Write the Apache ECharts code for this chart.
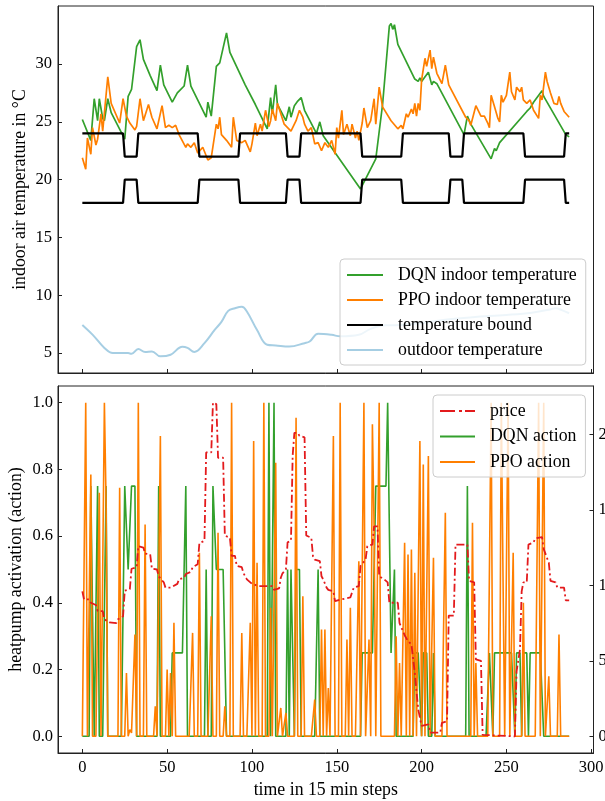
<!DOCTYPE html>
<html><head><meta charset="utf-8">
<script src="https://cdn.jsdelivr.net/npm/echarts@6/dist/echarts.min.js"></script>
<style>html,body{margin:0;padding:0;background:#fff}#c{width:605px;height:801px}</style>
</head><body><div id="c"></div>
<script>
// ---------- DATA ----------
const xTicks = [0, 50, 100, 150, 200, 250, 300];
const tempTicks = [5, 10, 15, 20, 25, 30];
const actionTicks = [0, 0.2, 0.4, 0.6, 0.8, 1.0];
const priceTicks = [0, 5, 10, 15, 20];

// [step, °C]
const dqnTemp = [[0,25.2],[5,23.4],[7,27.0],[9,25.1],[10,27.0],[12,25.3],[13,25.1],[15,27.0],[17,25.8],[25,23.5],[27,27.2],[29,27.8],[32,31.5],[34,32.1],[36,30.4],[40,29.0],[44,27.7],[46,29.9],[48,28.2],[53,26.7],[56,27.5],[60,28.1],[62,29.9],[64,28.1],[73,25.4],[74,26.7],[76,25.5],[79,29.8],[81,30.1],[85,32.7],[87,31.0],[96,28.2],[102,26.5],[109,24.4],[111,27.1],[112,25.7],[114,28.2],[115,26.5],[120,25.1],[122,26.3],[123,25.4],[125,26.4],[127,26.8],[129,27.1],[131,26.0],[138,24.0],[140,25.0],[142,23.8],[164,19.2],[173,21.8],[177,26.5],[181,33.3],[182,33.5],[183,33.0],[184,33.4],[186,31.7],[196,28.7],[198,28.5],[199,28.8],[200,28.5],[204,29.3],[206,28.2],[207,28.5],[209,28.3],[225,23.9],[227,25.5],[229,24.8],[241,21.8],[243,22.7],[244,22.5],[246,23.2],[262,25.9],[264,26.2],[266,26.7],[271,27.7],[272,27.2],[285,23.9],[287,23.7]];

const ppoTemp = [[0,21.9],[2,20.9],[3,23.6],[5,22.2],[6,24.5],[8,23.0],[9,23.5],[11,25.7],[12,24.2],[15,28.9],[17,26.6],[22,24.9],[24,27.0],[26,25.5],[28,24.9],[31,24.3],[32,24.6],[34,27.0],[36,25.1],[39,26.5],[41,25.4],[44,24.4],[47,26.4],[49,24.5],[51,24.7],[53,24.5],[55,24.7],[57,23.9],[61,22.8],[62,23.1],[64,22.8],[66,23.2],[68,22.3],[71,22.8],[74,21.7],[76,21.9],[79,24.8],[80,24.4],[81,25.4],[82,23.9],[85,23.4],[88,22.8],[89,25.4],[91,23.4],[94,23.2],[96,23.4],[99,22.4],[100,23.1],[102,24.9],[103,23.8],[105,24.8],[106,24.2],[108,26.0],[110,24.6],[111,25.1],[112,26.1],[114,25.1],[115,26.6],[119,24.8],[123,24.2],[126,25.1],[128,26.0],[130,25.4],[131,24.8],[133,24.2],[135,24.5],[137,23.1],[139,23.2],[141,22.5],[143,23.2],[145,22.8],[147,23.4],[149,22.2],[150,24.5],[151,23.6],[153,26.0],[154,23.9],[156,24.8],[158,23.8],[159,24.8],[161,23.6],[162,24.2],[163,23.4],[165,24.9],[166,26.2],[168,24.5],[170,25.1],[172,27.0],[173,24.8],[175,28.0],[177,26.3],[182,25.1],[186,24.4],[188,24.7],[189,24.4],[191,25.7],[192,25.4],[194,26.1],[195,25.7],[196,26.6],[197,25.5],[198,26.6],[199,26.0],[200,28.6],[202,30.5],[203,29.8],[205,31.2],[206,29.6],[207,30.6],[209,29.2],[212,28.3],[214,29.9],[216,28.2],[226,25.4],[228,25.1],[229,24.7],[230,24.7],[232,26.4],[233,26.1],[235,25.5],[237,25.5],[239,24.9],[240,24.5],[241,27.3],[243,26.3],[245,25.3],[246,25.0],[247,27.3],[248,26.7],[250,27.3],[252,29.3],[253,27.6],[255,26.9],[256,28.0],[258,27.6],[259,28.0],[260,26.9],[262,26.6],[264,26.9],[266,26.0],[269,25.3],[270,27.3],[271,26.9],[273,29.3],[274,28.5],[276,27.5],[278,26.6],[280,26.5],[281,27.2],[282,26.6],[284,25.9],[287,25.4]];

const upperBound = [[0,24],[24,24],[25,22],[32,22],[33,24],[68,24],[69,22],[92,22],[93,24],[120,24],[121,22],[128,22],[129,24],[164,24],[165,22],[188,22],[189,24],[216,24],[217,22],[224,22],[225,24],[260,24],[261,22],[284,22],[285,24],[287,24]];
const lowerBound = [[0,18],[24,18],[25,20],[32,20],[33,18],[68,18],[69,20],[92,20],[93,18],[120,18],[121,20],[128,20],[129,18],[164,18],[165,20],[188,20],[189,18],[216,18],[217,20],[224,20],[225,18],[260,18],[261,20],[284,20],[285,18],[287,18]];

const outdoorTemp = [[0,7.44],[6,6.6],[13,5.45],[18,5.0],[27,5.0],[29,4.95],[33,5.35],[37,5.1],[41,5.15],[46,4.72],[52,4.86],[59,5.55],[62,5.45],[66,5.1],[72,5.86],[78,7.0],[82,7.7],[86,8.65],[90,8.88],[94,9.0],[97,8.6],[103,7.0],[109,5.72],[114,5.66],[122,5.57],[131,5.86],[134,6.0],[139,6.67],[147,6.58],[152,6.45],[163,6.58],[170,7.1],[179,7.4],[185,7.41],[200,7.6],[215,7.9],[230,8.1],[250,8.3],[265,8.5],[275,8.75],[279,8.88],[283,8.7],[287,8.45]];

// [step, price] (right axis)
const price = [[0,9.6],[1,9.07],[4,9.07],[5,8.85],[8,8.7],[9,8.3],[12,8.3],[13,7.75],[16,7.55],[20,7.5],[21,7.75],[24,7.95],[25,9.65],[28,9.75],[29,11.1],[32,11.2],[33,12.6],[36,12.5],[37,12.1],[40,12.05],[41,11.1],[44,11.05],[45,10.6],[48,10.2],[49,9.85],[52,9.85],[53,9.95],[56,10.1],[57,10.4],[60,10.5],[61,10.75],[64,10.9],[65,11.2],[68,11.4],[69,12.8],[72,12.95],[73,18.8],[76,18.8],[77,22.1],[79,22.0],[80,18.45],[83,18.45],[84,13.3],[87,13.15],[88,11.95],[90,11.95],[91,11.3],[94,11.2],[95,10.8],[96,10.8],[97,10.4],[100,10.1],[101,10.05],[104,9.95],[112,9.95],[113,9.7],[116,9.8],[117,10.5],[118,10.8],[120,11.05],[121,12.85],[123,12.95],[124,18.6],[125,20.1],[127,20.1],[128,19.9],[131,19.8],[132,13.3],[135,13.15],[136,11.9],[137,11.7],[140,11.6],[141,10.6],[142,10.4],[144,9.85],[145,9.7],[148,9.6],[149,8.95],[152,9.05],[158,9.2],[160,9.85],[163,9.95],[164,11.3],[167,11.7],[168,12.6],[171,12.7],[172,13.9],[174,13.9],[175,10.6],[178,10.4],[180,10.2],[181,8.85],[186,8.85],[187,7.5],[188,7.4],[190,6.7],[192,6.3],[194,6.1],[195,6.05],[196,4.2],[198,1.8],[200,0.7],[204,0.8],[205,0.25],[211,0.25],[212,0.9],[215,1.0],[216,8.0],[219,8.0],[220,12.7],[227,12.7],[228,10.3],[231,10.2],[232,5.1],[235,5.0],[236,0.1],[237,0],[255,0],[256,4.3],[258,5.75],[259,9.6],[260,10.2],[262,10.2],[263,12.7],[266,12.85],[267,13.1],[271,13.2],[272,12.4],[275,11.5],[276,10.3],[279,10.2],[280,9.85],[284,9.85],[285,9.0],[287,9.0]];

// DQN action: [firstStep, lastStep, value]; all other steps 0
const dqnActionRuns = [[5,6,0.75],[9,9,0.75],[14,14,0.75],[25,26,0.75],[27,28,0.5],[29,31,0.75],[45,45,0.75],[53,60,0.25],[61,61,0.75],[73,73,0.5],[77,78,0.75],[79,84,0.5],[110,110,1.0],[113,113,1.0],[121,121,0.5],[123,124,0.5],[126,128,0.5],[139,139,0.5],[165,172,0.25],[173,179,0.75],[180,181,1.0],[182,183,0.25],[184,184,0.5],[196,199,0.25],[201,203,0.25],[207,207,0.25],[227,227,0.75],[240,241,0.25],[243,254,0.25],[256,258,0.25],[260,262,0.25],[264,271,0.25]];
// PPO action: [step, value]; all other steps 0
const ppoActionSpikes = [[2,1.0],[5,0.785],[10,0.73],[13,1.0],[14,0.7],[22,0.745],[26,0.19],[28,0.02],[29,0.01],[30,0.015],[31,0.305],[33,1.0],[37,0.635],[43,0.09],[46,0.9],[50,0.2],[52,0.19],[54,0.34],[65,0.31],[69,0.55],[76,0.36],[80,0.61],[84,0.09],[88,1.0],[94,0.31],[99,0.34],[101,0.885],[103,0.52],[107,1.0],[111,0.385],[114,0.82],[117,0.085],[120,0.07],[126,0.955],[130,0.42],[137,0.11],[141,0.32],[143,0.32],[145,0.145],[148,0.9],[152,1.0],[156,0.29],[158,0.385],[163,0.525],[166,1.0],[169,0.29],[171,0.935],[172,0.63],[175,1.0],[185,0.3],[187,0.22],[190,0.58],[192,0.545],[194,0.56],[196,0.49],[199,0.885],[201,0.815],[204,0.84],[207,0.535],[214,0.67],[230,0.64],[232,0.22],[241,1.0],[247,1.0],[248,0.48],[251,1.0],[254,0.55],[260,0.4],[269,1.0],[272,1.0],[275,0.18],[281,0.305]];
const nSteps = 288;

// ---------- BUILD ----------
function fromRuns(runs){const a=new Array(nSteps).fill(0);runs.forEach(([s,e,v])=>{for(let i=s;i<=e;i++)a[i]=v;});return a.map((v,i)=>[i,v]);}
function fromSpikes(sp){const a=new Array(nSteps).fill(0);sp.forEach(([i,v])=>{a[i]=v;});return a.map((v,i)=>[i,v]);}
const dqnAction = fromRuns(dqnActionRuns);
const ppoAction = fromSpikes(ppoActionSpikes);

const GREEN='#33a02c', ORANGE='#ff7f00', BLACK='#000000', LBLUE='#a6cee3', RED='#e31a1c';
const FONT="'Liberation Serif','DejaVu Serif',serif";
const FS=16.5, FN=17.8;
const AX='#222';
const DASHDOT_ICON='path://M0,0H15V2H0Z M19,0H22V2H19Z M25,0H35V2H25Z';

const chart = echarts.init(document.getElementById('c'), null, {renderer:'canvas', width:605, height:801});

function xAxisDef(gi, showLabels){
  return {gridIndex:gi, type:'value', min:-14.35, max:301.35,
    axisLine:{show:true, onZero:false, lineStyle:{color:AX,width:1}},
    axisTick:{show:true, inside:true, length:4, customValues:xTicks, lineStyle:{color:AX,width:1}},
    axisLabel:{show:showLabels, customValues:xTicks, fontFamily:FONT, fontSize:FS, color:'#000', margin:6},
    splitLine:{show:false},
    name: showLabels ? 'time in 15 min steps' : '', nameLocation:'middle', nameGap:28, nameMoveOverlap:false,
    nameTextStyle:{fontFamily:FONT, fontSize:FN, color:'#000'}};
}
const legendCommon = {orient:'vertical', itemHeight:2, itemGap:7, z:10,
  padding:[7,9,6,7], backgroundColor:'rgba(255,255,255,0.8)', borderColor:'#cccccc', borderWidth:1, borderRadius:4,
  textStyle:{fontFamily:FONT, fontSize:FN, color:'#000', padding:[0,0,0,10]}};

const option = {
  animation:false,
  backgroundColor:'#fff',
  grid:[
    {left:58, right:11.5, top:6, height:367, show:true, borderColor:AX, borderWidth:1, backgroundColor:'transparent', outerBoundsMode:'none', containLabel:false},
    {left:58, right:11.5, top:386, height:367, show:true, borderColor:AX, borderWidth:1, backgroundColor:'transparent', outerBoundsMode:'none', containLabel:false}
  ],
  xAxis:[xAxisDef(0,false), xAxisDef(1,true)],
  yAxis:[
    {gridIndex:0, type:'value', min:3.28, max:35.02,
      axisLine:{show:true, onZero:false, lineStyle:{color:AX}},
      axisTick:{inside:true, length:4, customValues:tempTicks, lineStyle:{color:AX}},
      axisLabel:{customValues:tempTicks, fontFamily:FONT, fontSize:FS, color:'#000', margin:6},
      splitLine:{show:false},
      name:'indoor air temperature in °C', nameLocation:'middle', nameGap:29, nameMoveOverlap:false,
      nameTextStyle:{fontFamily:FONT, fontSize:FN, color:'#000'}},
    {gridIndex:1, type:'value', min:-0.05, max:1.05,
      axisLine:{show:true, onZero:false, lineStyle:{color:AX}},
      axisTick:{inside:true, length:4, customValues:actionTicks, lineStyle:{color:AX}},
      axisLabel:{customValues:actionTicks, fontFamily:FONT, fontSize:FS, color:'#000', margin:5, formatter:v=>v.toFixed(1)},
      splitLine:{show:false},
      name:'heatpump activation (action)', nameLocation:'middle', nameGap:33, nameMoveOverlap:false,
      nameTextStyle:{fontFamily:FONT, fontSize:FN, color:'#000'}},
    {gridIndex:1, type:'value', position:'right', min:-1.1, max:23.2,
      axisLine:{show:true, onZero:false, lineStyle:{color:AX}},
      axisTick:{inside:true, length:4, customValues:priceTicks, lineStyle:{color:AX}},
      axisLabel:{customValues:priceTicks, fontFamily:FONT, fontSize:FS, color:'#000', margin:5},
      splitLine:{show:false}}
  ],
  legend:[
    Object.assign({}, legendCommon, {left:340, top:259, itemWidth:36,
      data:[{name:'DQN indoor temperature', icon:'rect'},{name:'PPO indoor temperature', icon:'rect'},{name:'temperature bound', icon:'rect'},{name:'outdoor temperature', icon:'rect'}]}),
    Object.assign({}, legendCommon, {left:433, top:395, itemWidth:35, itemGap:7.5,
      data:[{name:'price', icon:DASHDOT_ICON},{name:'DQN action', icon:'rect'},{name:'PPO action', icon:'rect'}]})
  ],
  series:[
    {name:'DQN indoor temperature', type:'line', xAxisIndex:0, yAxisIndex:0, data:dqnTemp, symbol:'none', itemStyle:{color:GREEN}, lineStyle:{color:GREEN,width:1.7}},
    {name:'PPO indoor temperature', type:'line', xAxisIndex:0, yAxisIndex:0, data:ppoTemp, symbol:'none', itemStyle:{color:ORANGE}, lineStyle:{color:ORANGE,width:1.7}},
    {name:'temperature bound', type:'line', xAxisIndex:0, yAxisIndex:0, data:upperBound, symbol:'none', itemStyle:{color:BLACK}, lineStyle:{color:BLACK,width:2.2}},
    {name:'temperature bound', type:'line', xAxisIndex:0, yAxisIndex:0, data:lowerBound, symbol:'none', itemStyle:{color:BLACK}, lineStyle:{color:BLACK,width:2.2}},
    {name:'outdoor temperature', type:'line', xAxisIndex:0, yAxisIndex:0, data:outdoorTemp, symbol:'none', smooth:0.4, itemStyle:{color:LBLUE}, lineStyle:{color:LBLUE,width:2}},
    {name:'DQN action', type:'line', xAxisIndex:1, yAxisIndex:1, data:dqnAction, symbol:'none', itemStyle:{color:GREEN}, lineStyle:{color:GREEN,width:1.6}},
    {name:'PPO action', type:'line', xAxisIndex:1, yAxisIndex:1, data:ppoAction, symbol:'none', itemStyle:{color:ORANGE}, lineStyle:{color:ORANGE,width:1.6}},
    {name:'price', type:'line', xAxisIndex:1, yAxisIndex:2, data:price, symbol:'none', itemStyle:{color:RED}, lineStyle:{color:RED,width:1.8,type:[8,3,2,3]}}
  ]
};
chart.setOption(option);
</script>
</body></html>
